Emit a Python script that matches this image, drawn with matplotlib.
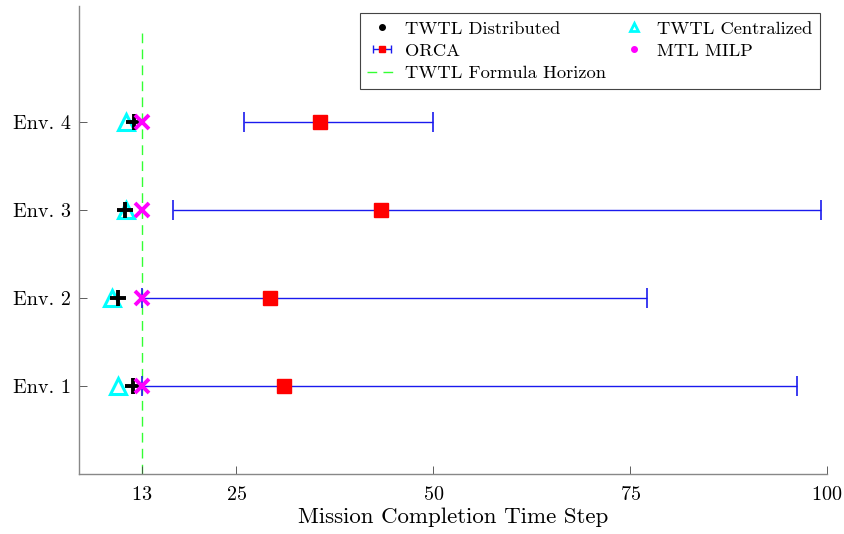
import matplotlib
matplotlib.use("Agg")
import matplotlib.pyplot as plt
from matplotlib.lines import Line2D
import numpy as np

plt.rcParams['font.family'] = 'serif'
plt.rcParams['font.serif'] = ['cmr10', 'DejaVu Serif']
plt.rcParams['mathtext.fontset'] = 'cm'
plt.rcParams['axes.formatter.use_mathtext'] = True

# data
envs = ["Env. 1", "Env. 2", "Env. 3", "Env. 4"]
env_pos = [1, 2, 3, 4]
twtl_dist = [11.8, 10.0, 10.9, 12.0]
twtl_cent = [9.9, 9.2, 11.0, 11.0]
mtl_milp = [13, 13, 13, 13]
orca_mean = [31.0, 29.3, 43.4, 35.6]
orca_low = [13.0, 13.0, 16.9, 26.0]
orca_high = [96.2, 77.2, 99.2, 50.0]
horizon = 13
xticks = [13, 25, 50, 75, 100]

fig = plt.figure(figsize=(8.45, 5.34), dpi=100)
ax = fig.add_axes([0.0935, 0.1124, 0.885, 0.8764])

om = np.array(orca_mean)
xerr = [om - np.array(orca_low), np.array(orca_high) - om]

dash = (0, (7, 4.5))
ax.plot([horizon, horizon], [0, 5.05], color='#33ff33', ls=dash, lw=1.0, zorder=1)
ax.errorbar(orca_mean, env_pos, xerr=xerr, fmt='s', color='red', ecolor='#1a1aee',
            elinewidth=1.0, capsize=7, capthick=1.2, ms=10, mec='red', zorder=2)
ax.plot(twtl_cent, env_pos, '^', color='cyan', mfc='none', mec='cyan', mew=2.2, ms=11, ls='none', zorder=3)
ax.plot(twtl_dist, env_pos, '+', color='black', mew=2.8, ms=12, ls='none', zorder=4)
ax.plot(mtl_milp, env_pos, 'x', color='magenta', mew=2.8, ms=10, ls='none', zorder=5)

# legend proxies
h_dist = Line2D([], [], marker='o', color='black', ms=4, ls='none')
h_cent = Line2D([], [], marker='^', color='cyan', mfc='none', mew=2, ms=6, ls='none')
h_milp = Line2D([], [], marker='o', color='magenta', ms=4, ls='none')
h_hor = Line2D([], [], color='#33ff33', ls=dash, lw=1.0)
h_orca = ax.errorbar([np.nan], [np.nan], xerr=[[1], [1]], fmt='s', color='red', ecolor='#1a1aee',
                     elinewidth=1.0, capsize=3, ms=4)
leg = ax.legend([h_dist, h_orca, h_hor, h_cent, h_milp],
                ["TWTL Distributed", "ORCA", "TWTL Formula Horizon", "TWTL Centralized", "MTL MILP"],
                ncol=2, loc='upper right', bbox_to_anchor=(0.991, 0.985), borderaxespad=0,
                fontsize=13.3, frameon=True, fancybox=False, edgecolor='#444444', framealpha=1,
                handlelength=1.6, handletextpad=0.45, columnspacing=0.7,
                borderpad=0.42, labelspacing=0.34)
leg.get_frame().set_linewidth(0.8)

ax.set_xlim(5, 100)
ax.set_ylim(0, 5.32)
ax.set_xticks(xticks)
ax.set_yticks(env_pos)
ax.set_yticklabels(envs)
ax.tick_params(direction='in', length=6, width=0.6, color='#444444', labelsize=14.5, pad=6)
ax.tick_params(axis='x', pad=9)
for s in ['top', 'right']:
    ax.spines[s].set_visible(False)
for s in ['left', 'bottom']:
    ax.spines[s].set_color('#888888')
    ax.spines[s].set_linewidth(1.0)
ax.set_xlabel("Mission Completion Time Step", fontsize=16.5, labelpad=2)

fig.savefig("out.png", dpi=100)
